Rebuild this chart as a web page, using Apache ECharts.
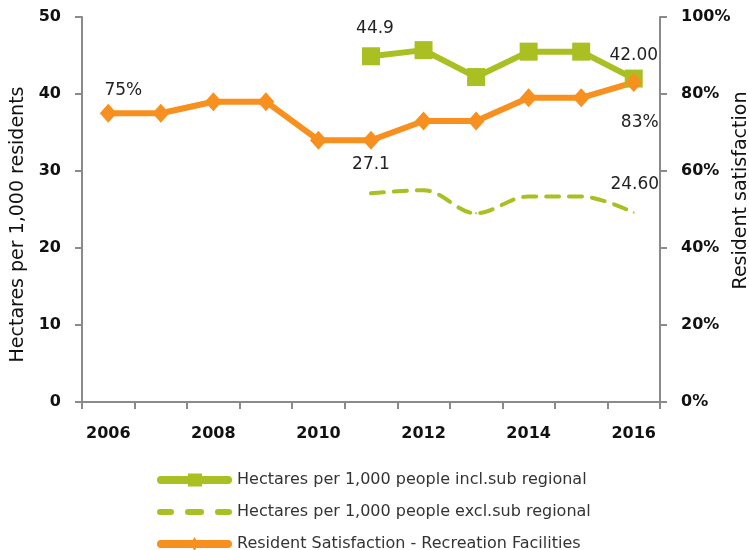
<!DOCTYPE html>
<html>
<head>
<meta charset="utf-8">
<script src="https://cdn.jsdelivr.net/npm/echarts@6/dist/echarts.min.js"></script>
<style>html,body{margin:0;padding:0;background:#fff}#c{width:749px;height:550px}</style>
</head>
<body>
<div id="c"></div>
<script>
const years = ['2006','2007','2008','2009','2010','2011','2012','2013','2014','2015','2016'];
const hectaresIncl = [null,null,null,null,null,44.9,45.7,42.2,45.5,45.5,42.0];
const hectaresExcl = [null,null,null,null,null,27.1,27.5,24.5,26.7,26.7,24.6];
const satisfaction = [75,75,78,78,68,68,73,73,79,79,83];
const leftTicks = [0,10,20,30,40,50];
const rightTicks = [0,20,40,60,80,100];

const GREEN = '#A9BF22';
const ORANGE = '#F7901E';
const FONT = 'DejaVu Sans';

function withLabels(arr, labels) {
  return arr.map((v, i) => labels[i] ? { value: v, label: Object.assign({ show: true }, labels[i]) } : v);
}
const lblStyle = { color: '#222', fontSize: 17, fontFamily: FONT };

const ICON_GREEN = 'path://M4,3H71A4,4 0 0 1 71,11H4A4,4 0 0 1 4,3Z M31,0.5H45V13.5H31Z';
const ICON_DASH = 'path://M3,4H14A3,3 0 0 1 14,10H3A3,3 0 0 1 3,4Z M31,4H44A3,3 0 0 1 44,10H31A3,3 0 0 1 31,4Z M61,4H72A3,3 0 0 1 72,10H61A3,3 0 0 1 61,4Z M0,0H0.01V14H0Z';
const ICON_ORANGE = 'path://M4,3H71A4,4 0 0 1 71,11H4A4,4 0 0 1 4,3Z M37.5,0L41.5,7L37.5,14L33.5,7Z';

const chart = echarts.init(document.getElementById('c'), null, { renderer: 'canvas' });
chart.setOption({
  animation: false,
  textStyle: { fontFamily: FONT },
  grid: { left: 82, right: 89, top: 17, bottom: 148, containLabel: false, outerBoundsMode: 'none' },
  legend: {
    orient: 'vertical', left: 152, top: 465, height: 120, itemWidth: 75, itemHeight: 14, itemGap: 12,
    textStyle: { color: '#333', fontSize: 16, fontFamily: FONT, lineHeight: 20 },
    data: [
      { name: 'Hectares per 1,000 people incl.sub regional', icon: ICON_GREEN },
      { name: 'Hectares per 1,000 people excl.sub regional', icon: ICON_DASH },
      { name: 'Resident Satisfaction - Recreation Facilities', icon: ICON_ORANGE }
    ]
  },
  xAxis: {
    type: 'category', data: years, boundaryGap: true,
    axisLine: { lineStyle: { color: '#8a8a8a', width: 2 } },
    axisTick: { show: true, alignWithLabel: false, interval: 0, length: 7, lineStyle: { color: '#8a8a8a', width: 2 } },
    axisLabel: { interval: 1, margin: 24, color: '#111', fontSize: 16, fontWeight: 'bold', fontFamily: FONT }
  },
  yAxis: [
    {
      type: 'value', min: leftTicks[0], max: leftTicks[leftTicks.length - 1], interval: leftTicks[1] - leftTicks[0],
      name: 'Hectares per 1,000 residents', nameLocation: 'middle', nameRotate: 90, nameGap: 54, nameMoveOverlap: false,
      nameTextStyle: { color: '#111', fontSize: 19, fontFamily: FONT, padding: [0, 30, 0, 0] },
      axisLine: { show: true, lineStyle: { color: '#8a8a8a', width: 2 } },
      axisTick: { show: true, length: 7, lineStyle: { color: '#8a8a8a', width: 2 } },
      axisLabel: { margin: 21, color: '#111', fontSize: 16, fontWeight: 'bold', fontFamily: FONT },
      splitLine: { show: false }
    },
    {
      type: 'value', min: rightTicks[0], max: rightTicks[rightTicks.length - 1], interval: rightTicks[1] - rightTicks[0],
      position: 'right',
      name: 'Resident satisfaction', nameLocation: 'middle', nameRotate: 90, nameGap: 72, nameMoveOverlap: false,
      nameTextStyle: { color: '#111', fontSize: 19, fontFamily: FONT, padding: [0, 0, 0, 38] },
      axisLine: { show: true, lineStyle: { color: '#8a8a8a', width: 2 } },
      axisTick: { show: true, length: 7, lineStyle: { color: '#8a8a8a', width: 2 } },
      axisLabel: { margin: 21, color: '#111', fontSize: 16, fontWeight: 'bold', fontFamily: FONT, formatter: '{value}%' },
      splitLine: { show: false }
    }
  ],
  series: [
    {
      name: 'Hectares per 1,000 people incl.sub regional', type: 'line', yAxisIndex: 0,
      data: withLabels(hectaresIncl, {
        5: Object.assign({ position: 'top', offset: [4, -5], formatter: '{c}' }, lblStyle),
        10: Object.assign({ position: 'top', offset: [0, -1], formatter: (p) => p.value.toFixed(2) }, lblStyle)
      }),
      symbol: 'rect', symbolSize: 18, showSymbol: true,
      itemStyle: { color: GREEN },
      lineStyle: { color: GREEN, width: 6 }
    },
    {
      name: 'Hectares per 1,000 people excl.sub regional', type: 'line', yAxisIndex: 0,
      data: withLabels(hectaresExcl, {
        5: Object.assign({ position: 'top', offset: [0, -14], formatter: '{c}' }, lblStyle),
        10: Object.assign({ position: 'top', offset: [1, -14], formatter: (p) => p.value.toFixed(2) }, lblStyle)
      }),
      symbol: 'circle', symbolSize: 2, showSymbol: true, smooth: 0.35,
      itemStyle: { color: GREEN },
      lineStyle: { color: GREEN, width: 4, type: [13, 10], cap: 'round' }
    },
    {
      name: 'Resident Satisfaction - Recreation Facilities', type: 'line', yAxisIndex: 1,
      data: withLabels(satisfaction, {
        0: Object.assign({ position: 'top', offset: [15, 0], formatter: '{c}%' }, lblStyle),
        10: Object.assign({ position: 'bottom', offset: [6, 17], formatter: '{c}%' }, lblStyle)
      }),
      symbol: 'diamond', symbolSize: [17, 19],
      itemStyle: { color: ORANGE },
      lineStyle: { color: ORANGE, width: 6 }
    }
  ]
});
</script>
</body>
</html>
